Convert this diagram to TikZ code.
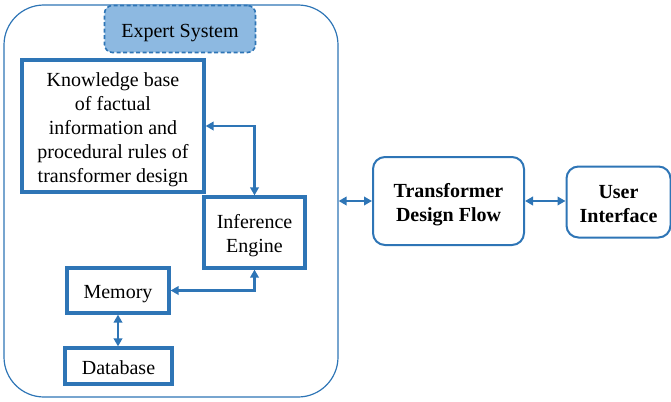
\documentclass[tikz,border=0pt]{standalone}
\usepackage{fontspec}
\setmainfont{Liberation Serif}
\usetikzlibrary{arrows.meta}
\definecolor{lineblue}{RGB}{46,117,182}
\definecolor{tagfill}{RGB}{141,185,225}
% set the lines of a label lower by a few points, keeping the box size
\newcommand\droplines[1]{\raisebox{-3.5pt}[\height][\depth]{\begin{tabular}{@{}c@{}}#1\end{tabular}}}
\begin{document}
\begin{tikzpicture}[x=1pt,y=-1pt,
  every node/.style={inner sep=0pt, align=center, font=\fontsize{20}{24}\selectfont},
  frame/.style={draw=lineblue, line width=1.2pt, rounded corners=40pt},
  tagbox/.style={draw=lineblue, fill=tagfill, line width=1.6pt, dash pattern=on 4pt off 2.5pt, rounded corners=8pt},
  part/.style={draw=lineblue, line width=3.2pt},
  stage/.style={draw=lineblue, line width=2pt, rounded corners=12pt, font=\fontsize{20}{24}\selectfont\bfseries},
  link/.style={draw=lineblue, line width=2.2pt, {Triangle[length=8pt,width=8.5pt]}-{Triangle[length=8pt,width=8.5pt]}}]
  \useasboundingbox (0,0) rectangle (671,401);

  % outer frame of the expert system
  \node[frame, minimum width=334pt, minimum height=392pt] (sys) at (171,201) {};
  \node[tagbox, minimum width=151pt, minimum height=47pt] (tag) at (180,29) {\droplines{Expert System}};

  % components inside the expert system
  \node[part, minimum width=182pt, minimum height=132pt] (kb) at (113,126)
    {\droplines{Knowledge base\\of factual\\information and\\procedural rules of\\transformer design}};
  \node[part, minimum width=101pt, minimum height=71pt] (ie) at (254.5,232.5) {\droplines{Inference\\Engine}};
  \node[part, minimum width=102pt, minimum height=45pt] (mem) at (118,290.5) {\droplines{Memory}};
  \node[part, minimum width=107pt, minimum height=36pt] (db) at (118.5,366) {\droplines{Database}};

  % stages outside
  \node[stage, minimum width=151pt, minimum height=88pt] (flow) at (448.5,201) {\droplines{Transformer\\Design Flow}};
  \node[stage, minimum width=104pt, minimum height=71pt] (ui) at (618.5,202) {\droplines{User\\Interface}};

  % connectors
  \draw[link] (kb.east) -| (ie.north);
  \draw[link] (mem.east) -| (ie.south);
  \draw[link] (mem.south) -- (mem.south |- db.north);
  \draw[link] (sys.east) -- (flow.west);
  \draw[link] (flow.east) -- (flow.east -| ui.west);
\end{tikzpicture}
\end{document}
